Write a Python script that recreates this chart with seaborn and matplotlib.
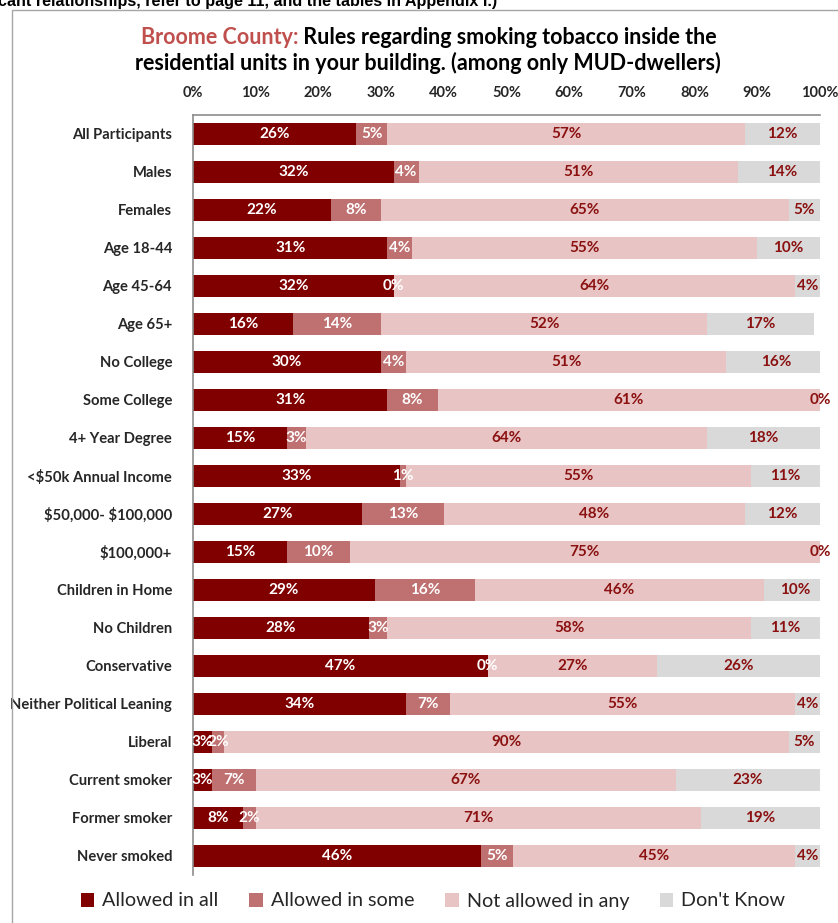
import numpy as np
import pandas as pd
import matplotlib
matplotlib.use("Agg")
import matplotlib.pyplot as plt
from matplotlib.patches import Patch, Rectangle
import seaborn as sns

categories = [
    "All Participants", "Males", "Females", "Age 18-44", "Age 45-64", "Age 65+",
    "No College", "Some College", "4+ Year Degree", "<$50k Annual Income",
    "$50,000- $100,000", "$100,000+", "Children in Home", "No Children",
    "Conservative", "Neither Political Leaning", "Liberal", "Current smoker",
    "Former smoker", "Never smoked",
]
allowed_all = [26, 32, 22, 31, 32, 16, 30, 31, 15, 33, 27, 15, 29, 28, 47, 34, 3, 3, 8, 46]
allowed_some = [5, 4, 8, 4, 0, 14, 4, 8, 3, 1, 13, 10, 16, 3, 0, 7, 2, 7, 2, 5]
not_allowed = [57, 51, 65, 55, 64, 52, 51, 61, 64, 55, 48, 75, 46, 58, 27, 55, 90, 67, 71, 45]
dont_know = [12, 14, 5, 10, 4, 17, 16, 0, 18, 11, 12, 0, 10, 11, 26, 4, 5, 23, 19, 4]
series_names = ["Allowed in all", "Allowed in some", "Not allowed in any", "Don't Know"]
x_ticks = [0, 10, 20, 30, 40, 50, 60, 70, 80, 90, 100]

colors = ["#800000", "#BF7070", "#E8C4C4", "#D9D9D9"]
label_colors = ["white", "white", "#8B1010", "#8B1010"]

sns.set_theme(style="white")
FONT = "Lato"
plt.rcParams["font.family"] = [FONT, "DejaVu Sans"]
plt.rcParams["text.parse_math"] = False

df = pd.DataFrame({
    "group": categories,
    series_names[0]: allowed_all,
    series_names[1]: allowed_some,
    series_names[2]: not_allowed,
    series_names[3]: dont_know,
})
values = df[series_names].to_numpy(dtype=float)
cum = np.cumsum(values, axis=1)
lefts = cum - values

W, H = 838, 923
fig = plt.figure(figsize=(W / 100, H / 100), dpi=100)
ax = fig.add_axes([193 / W, 1 - 875 / H, (820 - 193) / W, (875 - 115) / H])

# stacked bars: draw cumulative totals from the outermost layer inwards
for k in range(3, -1, -1):
    sns.barplot(x=cum[:, k], y=df["group"], orient="h", color=colors[k],
                width=0.58, saturation=1, ax=ax, linewidth=0)

for i in range(len(categories)):
    for k in range(4):
        xc = lefts[i, k] + values[i, k] / 2
        ax.text(xc, i, f"{int(values[i, k])}%", ha="center", va="center",
                color=label_colors[k], fontsize=11, fontweight="bold")

ax.set_xlim(0, 100)
ax.set_ylim(len(categories) - 0.5, -0.5)
ax.set_xticks(x_ticks)
ax.set_xticklabels([f"{t}%" for t in x_ticks], fontsize=10.5, fontweight="bold")
ax.xaxis.tick_top()
ax.tick_params(axis="x", length=0, pad=11)
ax.tick_params(axis="y", length=0, pad=15)
for lab in ax.get_yticklabels():
    lab.set_fontweight("bold")
    lab.set_fontsize(10.6)
ax.set_xlabel("")
ax.set_ylabel("")
for s in ["right", "bottom"]:
    ax.spines[s].set_visible(False)
for s in ["left", "top"]:
    ax.spines[s].set_color("#8C8C8C")
    ax.spines[s].set_linewidth(1.2)

# outer frame of the chart area
fig.patches.append(Rectangle((12 / W, -0.1), 1.2, 1 - 10 / H + 0.1,
                             transform=fig.transFigure, fill=False,
                             edgecolor="#A6A6A6", linewidth=1))

# running text above the chart frame
fig.text(-2 / W, 1 - 6 / H, "cant relationships, refer to page 11, and the tables in Appendix I.)",
         ha="left", va="baseline", fontsize=11.6, fontweight="bold",
         family="Liberation Sans", color="black")

# two-colour title, line 1 centred as a whole
fig.canvas.draw()
r = fig.canvas.get_renderer()
part_a = "Broome County:"
part_b = " Rules regarding smoking tobacco inside the"
ta = fig.text(0, 0, part_a, fontsize=15.5, fontweight="bold", color="#C0504D")
tb = fig.text(0, 0, part_b, fontsize=15.5, fontweight="bold", color="black")
wa = ta.get_window_extent(r).width
wb = tb.get_window_extent(r).width
cx = 429
x0 = cx - (wa + wb) / 2
y1 = 1 - 44 / H
ta.set_position((x0 / W, y1))
tb.set_position(((x0 + wa) / W, y1))
fig.text(428 / W, 1 - 70 / H, "residential units in your building. (among only MUD-dwellers)",
         ha="center", va="baseline", fontsize=15.5, fontweight="bold", color="black")

handles = [Patch(facecolor=c, edgecolor="none") for c in colors]
fig.legend(handles, series_names, loc="center", bbox_to_anchor=(433 / W, 1 - 901 / H),
           ncol=4, frameon=False, fontsize=14.2, handlelength=0.7, handleheight=0.7,
           handletextpad=0.4, columnspacing=1.55)

fig.savefig("out.png", dpi=100)
